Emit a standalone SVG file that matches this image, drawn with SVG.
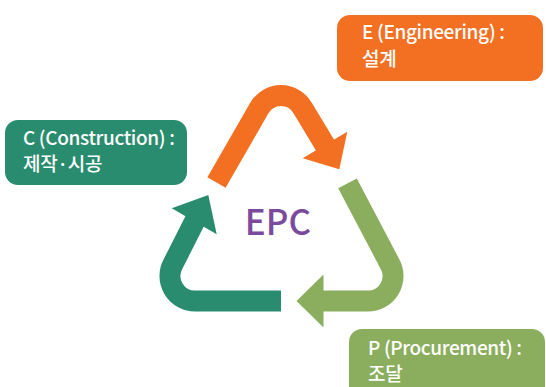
<svg xmlns="http://www.w3.org/2000/svg" width="546" height="387" viewBox="0 0 546 387">
<style>
.lbl{font-family:"Noto Sans CJK KR","Noto Sans",sans-serif;font-size:19px;font-weight:500;letter-spacing:-0.35px;fill:#fff}
.arr{fill:none;stroke-width:21;stroke-linejoin:round;stroke-linecap:butt}
.o{fill:#F37022}.lg{fill:#8BAE5E}.dg{fill:#2A8C6E}
</style>
<rect width="546" height="387" fill="#fff"/>
<g id="connectors">
  <g id="arrow-E">
    <path class="arr" stroke="#F37022" d="M216.5,182.5 L259.2,108.3 A25,25 0 0 1 302.8,108.3 L327.2,148.7"/>
    <polygon class="o" points="347.3,131.7 339.3,169.3 302.7,158.3"/>
  </g>
  <g id="arrow-P">
    <path class="arr" stroke="#8BAE5E" d="M347.5,183.3 L390,264.1 A25,25 0 0 1 368,301 L319,301"/>
    <polygon class="lg" points="323.5,274.5 296.5,301 323.5,327.5"/>
  </g>
  <g id="arrow-C">
    <path class="arr" stroke="#2A8C6E" d="M281,301 L195,301 A25,25 0 0 1 173,264.1 L196.8,217.1"/>
    <polygon class="dg" points="171.7,208.3 208.3,195 216.7,234.3"/>
  </g>
</g>
<g id="node-EPC">
  <text x="278" y="235" text-anchor="middle" style="font-family:'Noto Sans CJK KR','Noto Sans',sans-serif;font-size:35px;font-weight:500;fill:#7B4A9D">EPC</text>
</g>
<g id="node-E">
  <rect class="o" x="337" y="15" width="206" height="66" rx="13"/>
  <text class="lbl" x="362" y="39">E (Engineering) :</text>
  <text class="lbl" x="362" y="65.5">설계</text>
</g>
<g id="node-C">
  <rect class="dg" x="5" y="120" width="182" height="65" rx="13"/>
  <text class="lbl" x="23" y="145">C (Construction) :</text>
  <text class="lbl" x="23" y="171">제작·시공</text>
</g>
<g id="node-P">
  <rect class="lg" x="349" y="329" width="196" height="72" rx="13"/>
  <text class="lbl" x="368" y="355">P (Procurement) :</text>
  <text class="lbl" x="368" y="381">조달</text>
</g>
</svg>
